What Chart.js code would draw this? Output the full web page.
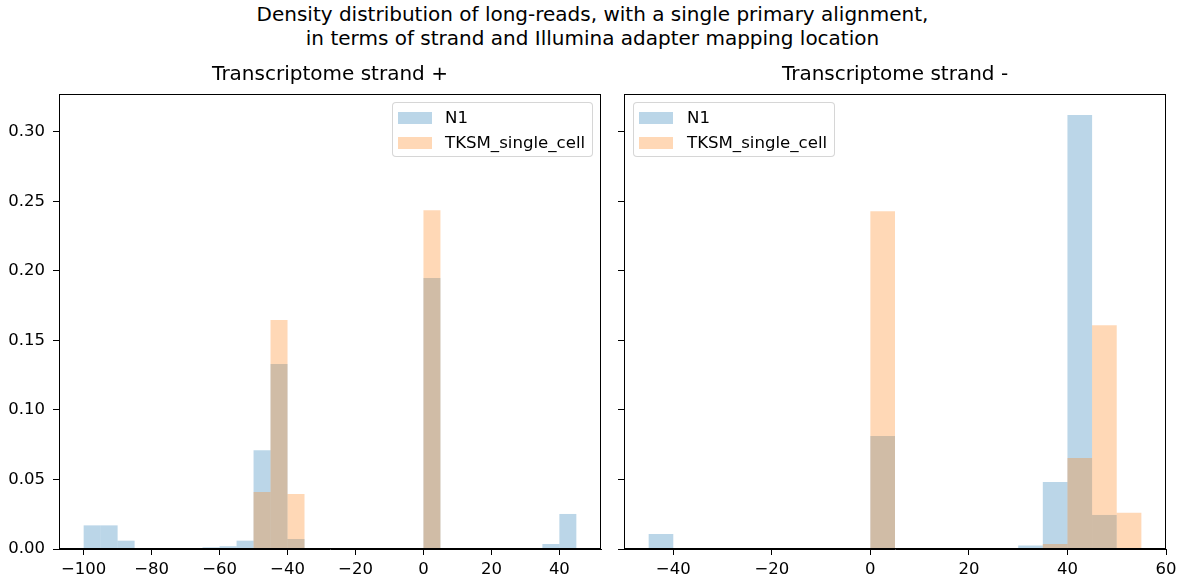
<!DOCTYPE html>
<html>
<head>
<meta charset="utf-8">
<script src="https://cdn.jsdelivr.net/npm/chart.js@4.4.1/dist/chart.umd.min.js"></script>
<style>
  html, body { margin: 0; padding: 0; background: #fff; }
  body { width: 1185px; height: 578px; position: relative; overflow: hidden; font-family: "DejaVu Sans", sans-serif; }
  canvas { position: absolute; }
  #suptitle { position: absolute; left: 0; width: 1185px; top: 2px; text-align: center; font-size: 20px; line-height: 24px; color: #000; }
  .legend { position: absolute; background: rgba(255,255,255,0.8); border: 1px solid rgba(204,204,204,0.8); border-radius: 4px; box-sizing: border-box; }
  .legend .row { position: absolute; left: 0; height: 20px; white-space: nowrap; font-size: 16.6px; line-height: 20px; color: #000; }
  .legend .sw { position: absolute; width: 34px; height: 12px; top: 4px; }
  .legend .lb { position: absolute; top: 0; }
</style>
</head>
<body>
<div id="suptitle">Density distribution of long-reads, with a single primary alignment,<br>in terms of strand and Illumina adapter mapping location</div>
<canvas id="left" width="610" height="518" style="left:0;top:60px;width:610px;height:518px"></canvas>
<canvas id="right" width="575" height="518" style="left:610px;top:60px;width:575px;height:518px"></canvas>
<div id="legL" class="legend" style="left:392px;top:102px;width:201px;height:55px"></div>
<div id="legR" class="legend" style="left:633px;top:102px;width:202px;height:55px"></div>
<script>
// ---- data ----
const seriesLabels = ["N1", "TKSM_single_cell"];
const panelTitles = ["Transcriptome strand +", "Transcriptome strand -"];

// bin centres (bin width 5)
const leftCenters = [-97.5,-92.5,-87.5,-82.5,-77.5,-72.5,-67.5,-62.5,-57.5,-52.5,-47.5,-42.5,-37.5,-32.5,-27.5,-22.5,-17.5,-12.5,-7.5,-2.5,2.5,7.5,12.5,17.5,22.5,27.5,32.5,37.5,42.5];
const leftN1 =      [0.017,0.017,0.006,0,0,0,0,0.0012,0.002,0.006,0.071,0.133,0.0072,0.0005,0,0,0,0,0,0,0.195,0,0,0,0,0,0,0.0036,0.0252];
const leftTKSM =    [0,0,0,0,0,0,0,0,0,0,0.041,0.1647,0.0396,0.0007,0,0,0,0,0,0,0.2437,0,0,0,0,0,0,0,0];

const rightCenters = [-42.5,-37.5,-32.5,-27.5,-22.5,-17.5,-12.5,-7.5,-2.5,2.5,7.5,12.5,17.5,22.5,27.5,32.5,37.5,42.5,47.5,52.5];
const rightN1 =      [0.0108,0.0005,0,0,0,0,0,0,0,0.0813,0,0,0,0,0,0.0025,0.0482,0.3122,0.0245,0];
const rightTKSM =    [0,0,0,0,0,0,0,0,0,0.2430,0,0,0,0,0,0,0.0036,0.0655,0.161,0.026];

const yTickStep = 0.05;
const yMax = 0.3273;

const colors = ["rgba(31,119,180,0.3)", "rgba(255,127,14,0.3)"];
const FONT = "DejaVu Sans";

function pts(xs, ys) { return xs.map((x, i) => ({ x: x, y: ys[i] })); }
function fmtMinus(v) { return String(Math.round(v)).replace('-', '\u2212'); }

const framePlugin = {
  id: 'frame',
  afterDraw(chart) {
    const a = chart.chartArea, ctx = chart.ctx;
    ctx.save();
    ctx.strokeStyle = '#000';
    ctx.lineWidth = 1;
    const l = Math.round(a.left) + 0.5, t = Math.round(a.top) + 0.5;
    const r = Math.round(a.right) - 0.5, b = Math.round(a.bottom) - 0.5;
    ctx.strokeRect(l, t, r - l, b - t);
    ctx.restore();
  }
};

function makeChart(id, xs, n1, tk, xmin, xmax, title, showY, yWidth, padRight) {
  return new Chart(document.getElementById(id), {
    type: 'bar',
    data: {
      datasets: [
        { label: seriesLabels[0], data: pts(xs, n1), backgroundColor: colors[0], borderWidth: 0, order: 2,
          barPercentage: 1, categoryPercentage: 1, grouped: false, inflateAmount: 0 },
        { label: seriesLabels[1], data: pts(xs, tk), backgroundColor: colors[1], borderWidth: 0, order: 1,
          barPercentage: 1, categoryPercentage: 1, grouped: false, inflateAmount: 0 }
      ]
    },
    options: {
      responsive: false,
      animation: false,
      devicePixelRatio: 1,
      layout: { padding: { left: 0, right: padRight, top: 0, bottom: 0 } },
      plugins: {
        legend: { display: false },
        tooltip: { enabled: false },
        title: { display: true, fullSize: false, text: title, color: '#000', font: { family: FONT, size: 20, weight: 'normal' },
                 padding: { top: 3, bottom: 7 } }
      },
      scales: {
        x: {
          type: 'linear', min: xmin, max: xmax, offset: false,
          grid: { display: true, offset: false, drawOnChartArea: false, drawTicks: true, tickLength: 6, color: '#000', tickColor: '#000' },
          border: { display: true, color: '#000', width: 1 },
          ticks: { stepSize: 20, includeBounds: false, color: '#000', padding: 5, maxRotation: 0, autoSkip: false,
                   font: { family: FONT, size: 16.5 }, callback: v => fmtMinus(v) },
          afterFit(scale) { scale.height = 29; }
        },
        y: {
          type: 'linear', min: 0, max: yMax,
          grid: { display: true, drawOnChartArea: false, drawTicks: true, tickLength: 6, color: '#000', tickColor: '#000' },
          border: { display: true, color: '#000', width: 1 },
          ticks: { stepSize: yTickStep, includeBounds: false, color: '#000', padding: 8, autoSkip: false,
                   font: { family: FONT, size: 16.5 }, callback: v => showY ? v.toFixed(2) : '' },
          afterFit(scale) { scale.width = yWidth; }
        }
      }
    },
    plugins: [framePlugin]
  });
}

const chartL = makeChart('left', leftCenters, leftN1, leftTKSM, -107.25, 52.25, panelTitles[0], true, 59, 9);
const chartR = makeChart('right', rightCenters, rightN1, rightTKSM, -50, 60, panelTitles[1], false, 14, 19);

function buildLegend(divId, chart, textLeft) {
  const div = document.getElementById(divId);
  chart.data.datasets.forEach((ds, i) => {
    const row = document.createElement('div');
    row.className = 'row';
    row.style.top = (5 + i * 24.5) + 'px';
    row.style.width = '100%';
    const sw = document.createElement('div');
    sw.className = 'sw';
    sw.style.left = '5px';
    sw.style.background = ds.backgroundColor;
    const lb = document.createElement('div');
    lb.className = 'lb';
    lb.style.left = textLeft + 'px';
    lb.textContent = ds.label;
    row.appendChild(sw); row.appendChild(lb);
    div.appendChild(row);
  });
}
buildLegend('legL', chartL, 52);
buildLegend('legR', chartR, 53);
</script>
</body>
</html>
